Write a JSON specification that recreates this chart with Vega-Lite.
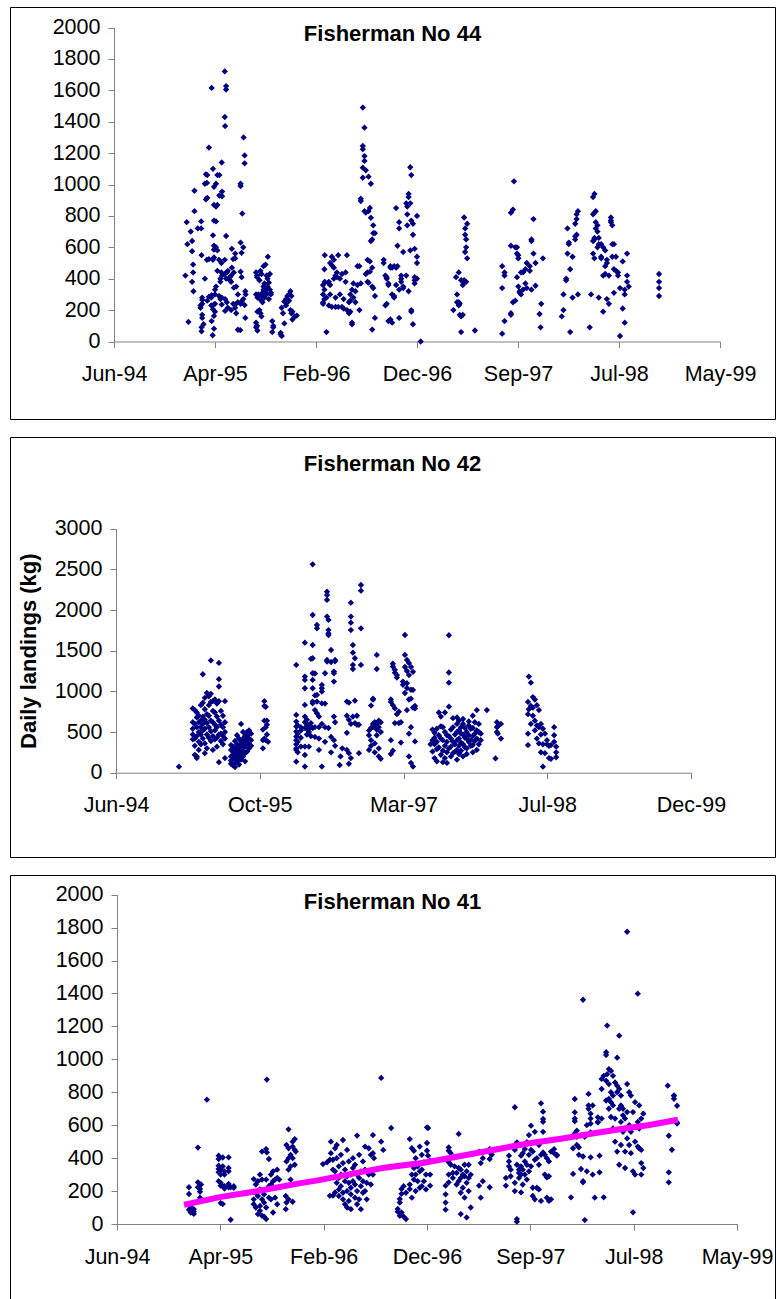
{
"$schema":"https://vega.github.io/schema/vega-lite/v6.json",
"background":"white",
"padding":{"left":9,"top":6,"right":0,"bottom":0},
"spacing":16,
"config":{
"view":{"stroke":"#000000","strokeWidth":1},
"font":"Liberation Sans",
"axis":{"domainColor":"#808080","tickColor":"#808080","tickSize":6,"labelColor":"#000000","labelFontSize":21.5,"labelFont":"Liberation Sans","grid":false,"titleFont":"Liberation Sans","titleFontSize":22,"titleFontWeight":"bold","titleColor":"#000000"},
"title":{"font":"Liberation Sans","fontSize":22,"fontWeight":"bold","color":"#000000","anchor":"middle","frame":"group","offset":-39}
},
"datasets":{
"p44":[
{"date":"1995-01-13","kg":420},{"date":"1995-01-17","kg":760},{"date":"1995-01-19","kg":620},{"date":"1995-01-22","kg":125},{"date":"1995-01-29","kg":700},
{"date":"1995-02-02","kg":640},{"date":"1995-02-02","kg":575},{"date":"1995-02-02","kg":380},{"date":"1995-02-05","kg":490},{"date":"1995-02-05","kg":440},{"date":"1995-02-06","kg":320},{"date":"1995-02-09","kg":960},{"date":"1995-02-09","kg":830},{"date":"1995-02-19","kg":720},{"date":"1995-02-27","kg":215},{"date":"1995-02-27","kg":230},
{"date":"1995-03-01","kg":765},{"date":"1995-03-01","kg":720},{"date":"1995-03-02","kg":550},{"date":"1995-03-02","kg":65},{"date":"1995-03-02","kg":90},{"date":"1995-03-04","kg":265},{"date":"1995-03-04","kg":280},{"date":"1995-03-04","kg":240},{"date":"1995-03-04","kg":170},{"date":"1995-03-04","kg":150},{"date":"1995-03-08","kg":110},
{"date":"1995-03-12","kg":1005},{"date":"1995-03-12","kg":400},{"date":"1995-03-15","kg":1065},{"date":"1995-03-15","kg":905},{"date":"1995-03-18","kg":1010},{"date":"1995-03-18","kg":520},{"date":"1995-03-19","kg":1060},{"date":"1995-03-19","kg":915},{"date":"1995-03-19","kg":260},{"date":"1995-03-24","kg":1235},{"date":"1995-03-24","kg":525},{"date":"1995-03-24","kg":285},{"date":"1995-03-31","kg":280},{"date":"1995-03-31","kg":230},
{"date":"1995-04-01","kg":1615},{"date":"1995-04-01","kg":295},{"date":"1995-04-01","kg":130},{"date":"1995-04-04","kg":40},{"date":"1995-04-05","kg":1100},{"date":"1995-04-05","kg":676},{"date":"1995-04-05","kg":520},{"date":"1995-04-05","kg":205},
{"date":"1995-04-08","kg":985},{"date":"1995-04-08","kg":535},{"date":"1995-04-08","kg":237},{"date":"1995-04-08","kg":163},{"date":"1995-04-08","kg":82},{"date":"1995-04-08","kg":870},{"date":"1995-04-08","kg":770},{"date":"1995-04-08","kg":610},{"date":"1995-04-08","kg":585},
{"date":"1995-04-11","kg":330},{"date":"1995-04-11","kg":300},{"date":"1995-04-11","kg":240},{"date":"1995-04-11","kg":190},{"date":"1995-04-14","kg":1005},{"date":"1995-04-14","kg":860},{"date":"1995-04-14","kg":765},{"date":"1995-04-14","kg":600},{"date":"1995-04-14","kg":350},
{"date":"1995-04-18","kg":1060},{"date":"1995-04-18","kg":870},{"date":"1995-04-18","kg":580},{"date":"1995-04-18","kg":450},{"date":"1995-04-23","kg":520},{"date":"1995-04-23","kg":290},{"date":"1995-04-24","kg":1060},{"date":"1995-04-24","kg":930},{"date":"1995-04-27","kg":400},{"date":"1995-04-27","kg":380},{"date":"1995-04-27","kg":270},{"date":"1995-04-30","kg":500},{"date":"1995-04-30","kg":440},
{"date":"1995-05-01","kg":1140},{"date":"1995-05-01","kg":280},{"date":"1995-05-01","kg":235},{"date":"1995-05-02","kg":955},{"date":"1995-05-02","kg":925},{"date":"1995-05-02","kg":420},{"date":"1995-05-10","kg":1720},{"date":"1995-05-10","kg":1430},{"date":"1995-05-10","kg":520},{"date":"1995-05-10","kg":430},
{"date":"1995-05-11","kg":1372},{"date":"1995-05-11","kg":270},{"date":"1995-05-11","kg":195},{"date":"1995-05-14","kg":1627},{"date":"1995-05-14","kg":1605},{"date":"1995-05-14","kg":672},{"date":"1995-05-14","kg":400},{"date":"1995-05-16","kg":250},{"date":"1995-05-16","kg":440},{"date":"1995-05-19","kg":450},{"date":"1995-05-19","kg":215},
{"date":"1995-05-25","kg":410},{"date":"1995-05-25","kg":390},{"date":"1995-05-29","kg":420},{"date":"1995-05-29","kg":380},{"date":"1995-05-29","kg":200},{"date":"1995-05-31","kg":590},{"date":"1995-05-31","kg":470},{"date":"1995-06-04","kg":525},{"date":"1995-06-04","kg":240},{"date":"1995-06-06","kg":343},{"date":"1995-06-06","kg":440},
{"date":"1995-06-10","kg":560},{"date":"1995-06-10","kg":530},{"date":"1995-06-10","kg":236},{"date":"1995-06-10","kg":215},{"date":"1995-06-13","kg":180},{"date":"1995-06-13","kg":350},{"date":"1995-06-18","kg":300},{"date":"1995-06-18","kg":250},{"date":"1995-06-18","kg":75},{"date":"1995-06-25","kg":72},
{"date":"1995-06-26","kg":1005},{"date":"1995-06-26","kg":990},{"date":"1995-06-26","kg":445},{"date":"1995-06-26","kg":630},{"date":"1995-06-26","kg":240},{"date":"1995-06-29","kg":410},{"date":"1995-06-29","kg":565},{"date":"1995-06-29","kg":255},{"date":"1995-07-01","kg":815},{"date":"1995-07-04","kg":600},{"date":"1995-07-04","kg":270},
{"date":"1995-07-05","kg":1300},{"date":"1995-07-08","kg":1185},{"date":"1995-07-08","kg":1135},{"date":"1995-07-08","kg":232},{"date":"1995-07-10","kg":150},{"date":"1995-07-10","kg":320},{"date":"1995-07-11","kg":300},
{"date":"1995-08-11","kg":120},{"date":"1995-08-11","kg":300},{"date":"1995-08-11","kg":440},{"date":"1995-08-11","kg":90},{"date":"1995-08-14","kg":100},{"date":"1995-08-14","kg":420},{"date":"1995-08-14","kg":410},{"date":"1995-08-15","kg":70},{"date":"1995-08-15","kg":190},{"date":"1995-08-15","kg":280},
{"date":"1995-08-18","kg":280},{"date":"1995-08-18","kg":300},{"date":"1995-08-21","kg":200},{"date":"1995-08-21","kg":390},{"date":"1995-08-24","kg":450},{"date":"1995-08-24","kg":180},{"date":"1995-08-24","kg":270},{"date":"1995-08-27","kg":430},{"date":"1995-08-27","kg":260},{"date":"1995-08-27","kg":160},
{"date":"1995-08-30","kg":290},{"date":"1995-08-30","kg":250},{"date":"1995-08-30","kg":310},{"date":"1995-09-02","kg":480},{"date":"1995-09-02","kg":350},{"date":"1995-09-02","kg":330},{"date":"1995-09-05","kg":320},{"date":"1995-09-05","kg":370},{"date":"1995-09-05","kg":280},{"date":"1995-09-08","kg":490},{"date":"1995-09-08","kg":310},
{"date":"1995-09-11","kg":420},{"date":"1995-09-11","kg":330},{"date":"1995-09-11","kg":300},{"date":"1995-09-14","kg":400},{"date":"1995-09-14","kg":350},{"date":"1995-09-15","kg":540},{"date":"1995-09-15","kg":420},{"date":"1995-09-18","kg":375},{"date":"1995-09-18","kg":270},{"date":"1995-09-21","kg":430},{"date":"1995-09-21","kg":330},
{"date":"1995-09-24","kg":310},{"date":"1995-09-24","kg":300},{"date":"1995-09-28","kg":130},{"date":"1995-09-28","kg":60},{"date":"1995-10-01","kg":90},{"date":"1995-10-01","kg":100},
{"date":"1995-10-23","kg":45},{"date":"1995-10-23","kg":55},{"date":"1995-10-26","kg":215},{"date":"1995-10-26","kg":35},{"date":"1995-10-30","kg":180},{"date":"1995-11-03","kg":115},{"date":"1995-11-03","kg":255},{"date":"1995-11-08","kg":270},{"date":"1995-11-08","kg":230},
{"date":"1995-11-12","kg":290},{"date":"1995-11-12","kg":250},{"date":"1995-11-17","kg":300},{"date":"1995-11-17","kg":260},{"date":"1995-11-21","kg":320},{"date":"1995-11-21","kg":200},{"date":"1995-11-24","kg":290},{"date":"1995-11-24","kg":180},{"date":"1995-11-27","kg":190},{"date":"1995-11-27","kg":140},{"date":"1995-12-04","kg":160},{"date":"1995-12-10","kg":165},
{"date":"1996-02-26","kg":300},{"date":"1996-02-26","kg":240},{"date":"1996-02-26","kg":250},{"date":"1996-02-26","kg":360},{"date":"1996-03-01","kg":460},{"date":"1996-03-01","kg":330},{"date":"1996-03-01","kg":270},{"date":"1996-03-02","kg":550},{"date":"1996-03-02","kg":380},{"date":"1996-03-07","kg":280},{"date":"1996-03-07","kg":60},
{"date":"1996-03-14","kg":380},{"date":"1996-03-14","kg":370},{"date":"1996-03-14","kg":230},{"date":"1996-03-18","kg":500},{"date":"1996-03-18","kg":360},{"date":"1996-03-18","kg":300},{"date":"1996-03-23","kg":540},{"date":"1996-03-23","kg":485},{"date":"1996-03-23","kg":220},
{"date":"1996-03-29","kg":520},{"date":"1996-03-29","kg":470},{"date":"1996-03-29","kg":400},{"date":"1996-04-03","kg":420},{"date":"1996-04-03","kg":280},{"date":"1996-04-03","kg":220},{"date":"1996-04-07","kg":440},{"date":"1996-04-07","kg":410},{"date":"1996-04-11","kg":220},{"date":"1996-04-11","kg":550},
{"date":"1996-04-16","kg":400},{"date":"1996-04-16","kg":300},{"date":"1996-04-22","kg":430},{"date":"1996-04-22","kg":220},{"date":"1996-04-27","kg":270},{"date":"1996-04-27","kg":210},{"date":"1996-05-03","kg":440},{"date":"1996-05-03","kg":380},{"date":"1996-05-07","kg":550},{"date":"1996-05-07","kg":200},
{"date":"1996-05-13","kg":250},{"date":"1996-05-13","kg":180},{"date":"1996-05-17","kg":190},{"date":"1996-05-17","kg":260},{"date":"1996-05-17","kg":300},{"date":"1996-05-22","kg":330},{"date":"1996-05-22","kg":120},{"date":"1996-05-22","kg":110},{"date":"1996-05-26","kg":280},{"date":"1996-05-26","kg":370},
{"date":"1996-06-01","kg":320},{"date":"1996-06-01","kg":250},{"date":"1996-06-07","kg":360},{"date":"1996-06-07","kg":480},{"date":"1996-06-13","kg":200},{"date":"1996-06-13","kg":480},{"date":"1996-06-17","kg":910},{"date":"1996-06-17","kg":895},{"date":"1996-06-17","kg":370},
{"date":"1996-06-23","kg":1490},{"date":"1996-06-23","kg":1245},{"date":"1996-06-23","kg":1225},{"date":"1996-06-23","kg":1043},{"date":"1996-06-23","kg":1107},{"date":"1996-06-28","kg":1362},{"date":"1996-06-28","kg":1150},{"date":"1996-06-28","kg":1181},{"date":"1996-06-28","kg":830},
{"date":"1996-07-02","kg":1090},{"date":"1996-07-02","kg":821},{"date":"1996-07-02","kg":430},{"date":"1996-07-07","kg":520},{"date":"1996-07-07","kg":440},{"date":"1996-07-07","kg":380},{"date":"1996-07-10","kg":1050},{"date":"1996-07-10","kg":830},{"date":"1996-07-10","kg":375},
{"date":"1996-07-14","kg":851},{"date":"1996-07-14","kg":510},{"date":"1996-07-14","kg":445},{"date":"1996-07-17","kg":1005},{"date":"1996-07-17","kg":788},{"date":"1996-07-17","kg":640},{"date":"1996-07-21","kg":650},{"date":"1996-07-21","kg":470},{"date":"1996-07-21","kg":350},{"date":"1996-07-21","kg":76},
{"date":"1996-07-24","kg":740},{"date":"1996-07-24","kg":690},{"date":"1996-07-24","kg":340},{"date":"1996-07-29","kg":690},{"date":"1996-07-29","kg":290},{"date":"1996-07-29","kg":150},
{"date":"1996-08-24","kg":520},{"date":"1996-08-24","kg":500},{"date":"1996-08-29","kg":420},{"date":"1996-08-29","kg":230},{"date":"1996-09-02","kg":410},{"date":"1996-09-02","kg":240},{"date":"1996-09-02","kg":400},{"date":"1996-09-07","kg":370},{"date":"1996-09-07","kg":360},{"date":"1996-09-07","kg":130},
{"date":"1996-09-13","kg":480},{"date":"1996-09-13","kg":470},{"date":"1996-09-13","kg":140},{"date":"1996-09-18","kg":470},{"date":"1996-09-18","kg":300},{"date":"1996-09-18","kg":120},{"date":"1996-09-24","kg":480},{"date":"1996-09-24","kg":290},{"date":"1996-09-24","kg":280},
{"date":"1996-09-30","kg":850},{"date":"1996-09-30","kg":470},{"date":"1996-09-30","kg":360},{"date":"1996-10-04","kg":480},{"date":"1996-10-04","kg":610},{"date":"1996-10-09","kg":720},{"date":"1996-10-09","kg":760},{"date":"1996-10-09","kg":330},{"date":"1996-10-09","kg":150},
{"date":"1996-10-15","kg":400},{"date":"1996-10-15","kg":380},{"date":"1996-10-15","kg":420},{"date":"1996-10-21","kg":570},{"date":"1996-10-21","kg":340},{"date":"1996-10-21","kg":350},{"date":"1996-10-30","kg":420},{"date":"1996-10-30","kg":880},
{"date":"1996-11-02","kg":810},{"date":"1996-11-02","kg":860},{"date":"1996-11-02","kg":740},{"date":"1996-11-06","kg":940},{"date":"1996-11-06","kg":920},{"date":"1996-11-06","kg":320},{"date":"1996-11-11","kg":1110},{"date":"1996-11-11","kg":880},{"date":"1996-11-11","kg":580},
{"date":"1996-11-14","kg":1060},{"date":"1996-11-14","kg":770},{"date":"1996-11-14","kg":200},{"date":"1996-11-14","kg":190},{"date":"1996-11-19","kg":750},{"date":"1996-11-19","kg":680},{"date":"1996-11-19","kg":110},
{"date":"1996-11-24","kg":590},{"date":"1996-11-24","kg":410},{"date":"1996-11-24","kg":390},{"date":"1996-11-24","kg":370},{"date":"1996-12-01","kg":800},{"date":"1996-12-01","kg":540},{"date":"1996-12-01","kg":500},{"date":"1996-12-01","kg":400},{"date":"1996-12-12","kg":0},
{"date":"1997-03-19","kg":200},{"date":"1997-03-27","kg":410},{"date":"1997-03-30","kg":300},{"date":"1997-03-30","kg":250},{"date":"1997-04-04","kg":440},{"date":"1997-04-04","kg":250},{"date":"1997-04-04","kg":230},{"date":"1997-04-07","kg":170},{"date":"1997-04-07","kg":240},
{"date":"1997-04-11","kg":390},{"date":"1997-04-11","kg":160},{"date":"1997-04-11","kg":60},{"date":"1997-04-16","kg":170},{"date":"1997-04-16","kg":360},{"date":"1997-04-20","kg":790},{"date":"1997-04-20","kg":390},{"date":"1997-04-20","kg":380},
{"date":"1997-04-23","kg":720},{"date":"1997-04-23","kg":680},{"date":"1997-04-23","kg":570},{"date":"1997-04-26","kg":650},{"date":"1997-04-26","kg":600},{"date":"1997-04-26","kg":380},{"date":"1997-04-29","kg":750},{"date":"1997-04-29","kg":530},{"date":"1997-05-22","kg":70},
{"date":"1997-08-11","kg":50},{"date":"1997-08-11","kg":480},{"date":"1997-08-11","kg":340},{"date":"1997-08-18","kg":130},{"date":"1997-08-18","kg":440},{"date":"1997-08-18","kg":420},{"date":"1997-09-06","kg":170},{"date":"1997-09-06","kg":180},{"date":"1997-09-06","kg":610},{"date":"1997-09-06","kg":820},
{"date":"1997-09-12","kg":840},{"date":"1997-09-12","kg":250},{"date":"1997-09-15","kg":1020},{"date":"1997-09-19","kg":600},{"date":"1997-09-19","kg":260},{"date":"1997-09-24","kg":560},{"date":"1997-09-24","kg":600},{"date":"1997-09-24","kg":410},
{"date":"1997-09-28","kg":530},{"date":"1997-09-28","kg":550},{"date":"1997-09-28","kg":350},{"date":"1997-10-02","kg":310},{"date":"1997-10-02","kg":320},{"date":"1997-10-06","kg":440},{"date":"1997-10-06","kg":300},{"date":"1997-10-12","kg":330},{"date":"1997-10-12","kg":440},
{"date":"1997-10-19","kg":460},{"date":"1997-10-19","kg":370},{"date":"1997-10-23","kg":500},{"date":"1997-10-23","kg":340},{"date":"1997-11-01","kg":450},{"date":"1997-11-01","kg":480},{"date":"1997-11-06","kg":640},{"date":"1997-11-06","kg":650},{"date":"1997-11-06","kg":330},
{"date":"1997-11-12","kg":780},{"date":"1997-11-12","kg":560},{"date":"1997-11-18","kg":355},{"date":"1997-11-18","kg":500},{"date":"1997-11-30","kg":175},{"date":"1997-12-03","kg":90},{"date":"1997-12-05","kg":240},{"date":"1997-12-10","kg":530},
{"date":"1998-02-04","kg":160},{"date":"1998-02-09","kg":200},{"date":"1998-02-09","kg":300},{"date":"1998-02-17","kg":390},{"date":"1998-02-17","kg":400},{"date":"1998-02-21","kg":720},{"date":"1998-02-21","kg":560},{"date":"1998-02-25","kg":620},{"date":"1998-02-25","kg":630},
{"date":"1998-03-01","kg":60},{"date":"1998-03-01","kg":460},{"date":"1998-03-08","kg":540},{"date":"1998-03-08","kg":280},{"date":"1998-03-16","kg":750},{"date":"1998-03-16","kg":650},{"date":"1998-03-16","kg":670},{"date":"1998-03-20","kg":680},{"date":"1998-03-20","kg":780},{"date":"1998-03-20","kg":810},{"date":"1998-03-24","kg":830},{"date":"1998-03-24","kg":300},
{"date":"1998-04-28","kg":90},{"date":"1998-05-02","kg":300},{"date":"1998-05-08","kg":920},{"date":"1998-05-08","kg":810},{"date":"1998-05-08","kg":640},{"date":"1998-05-08","kg":560},{"date":"1998-05-12","kg":940},{"date":"1998-05-12","kg":820},{"date":"1998-05-12","kg":660},{"date":"1998-05-12","kg":650},{"date":"1998-05-12","kg":530},
{"date":"1998-05-16","kg":830},{"date":"1998-05-16","kg":760},{"date":"1998-05-16","kg":720},{"date":"1998-05-21","kg":740},{"date":"1998-05-21","kg":700},{"date":"1998-05-21","kg":600},{"date":"1998-05-25","kg":660},{"date":"1998-05-25","kg":280},{"date":"1998-05-25","kg":620},
{"date":"1998-06-01","kg":540},{"date":"1998-06-01","kg":620},{"date":"1998-06-01","kg":530},{"date":"1998-06-07","kg":600},{"date":"1998-06-07","kg":420},{"date":"1998-06-07","kg":190},{"date":"1998-06-13","kg":480},{"date":"1998-06-13","kg":580},{"date":"1998-06-13","kg":430},
{"date":"1998-06-18","kg":520},{"date":"1998-06-18","kg":500},{"date":"1998-06-18","kg":270},{"date":"1998-06-24","kg":420},{"date":"1998-06-24","kg":240},
{"date":"1998-06-30","kg":790},{"date":"1998-06-30","kg":770},{"date":"1998-06-30","kg":760},{"date":"1998-07-04","kg":740},{"date":"1998-07-04","kg":620},{"date":"1998-07-04","kg":540},{"date":"1998-07-09","kg":620},{"date":"1998-07-09","kg":460},{"date":"1998-07-09","kg":310},
{"date":"1998-07-15","kg":450},{"date":"1998-07-15","kg":540},{"date":"1998-07-21","kg":440},{"date":"1998-07-21","kg":420},{"date":"1998-07-27","kg":340},{"date":"1998-07-27","kg":35},{"date":"1998-08-04","kg":510},{"date":"1998-08-04","kg":210},
{"date":"1998-08-10","kg":120},{"date":"1998-08-10","kg":300},{"date":"1998-08-10","kg":330},{"date":"1998-08-17","kg":380},{"date":"1998-08-17","kg":420},{"date":"1998-08-17","kg":560},{"date":"1998-08-22","kg":350},
{"date":"1998-11-20","kg":430},{"date":"1998-11-20","kg":380},{"date":"1998-11-20","kg":340},{"date":"1998-11-20","kg":290}
],
"p42":[
{"date":"1995-01-20","kg":74},
{"date":"1995-03-09","kg":540},{"date":"1995-03-09","kg":620},{"date":"1995-03-09","kg":470},{"date":"1995-03-09","kg":790},{"date":"1995-03-09","kg":410},
{"date":"1995-03-16","kg":770},{"date":"1995-03-16","kg":600},{"date":"1995-03-16","kg":420},{"date":"1995-03-16","kg":330},{"date":"1995-03-16","kg":220},
{"date":"1995-03-23","kg":740},{"date":"1995-03-23","kg":680},{"date":"1995-03-23","kg":560},{"date":"1995-03-23","kg":450},{"date":"1995-03-23","kg":200},{"date":"1995-03-23","kg":180},
{"date":"1995-03-30","kg":700},{"date":"1995-03-30","kg":620},{"date":"1995-03-30","kg":500},{"date":"1995-03-30","kg":380},{"date":"1995-03-30","kg":280},
{"date":"1995-04-06","kg":830},{"date":"1995-04-06","kg":640},{"date":"1995-04-06","kg":560},{"date":"1995-04-06","kg":470},{"date":"1995-04-06","kg":350},
{"date":"1995-04-13","kg":1210},{"date":"1995-04-13","kg":860},{"date":"1995-04-13","kg":690},{"date":"1995-04-13","kg":600},{"date":"1995-04-13","kg":520},{"date":"1995-04-13","kg":420},
{"date":"1995-04-20","kg":920},{"date":"1995-04-20","kg":780},{"date":"1995-04-20","kg":650},{"date":"1995-04-20","kg":540},{"date":"1995-04-20","kg":360},{"date":"1995-04-20","kg":240},
{"date":"1995-04-27","kg":980},{"date":"1995-04-27","kg":720},{"date":"1995-04-27","kg":610},{"date":"1995-04-27","kg":470},{"date":"1995-04-27","kg":300},
{"date":"1995-05-04","kg":940},{"date":"1995-05-04","kg":830},{"date":"1995-05-04","kg":700},{"date":"1995-05-04","kg":560},{"date":"1995-05-04","kg":430},
{"date":"1995-05-11","kg":1380},{"date":"1995-05-11","kg":970},{"date":"1995-05-11","kg":870},{"date":"1995-05-11","kg":640},{"date":"1995-05-11","kg":510},{"date":"1995-05-11","kg":390},
{"date":"1995-05-18","kg":880},{"date":"1995-05-18","kg":760},{"date":"1995-05-18","kg":620},{"date":"1995-05-18","kg":450},{"date":"1995-05-18","kg":280},
{"date":"1995-05-25","kg":900},{"date":"1995-05-25","kg":740},{"date":"1995-05-25","kg":590},{"date":"1995-05-25","kg":520},{"date":"1995-05-25","kg":410},
{"date":"1995-06-01","kg":850},{"date":"1995-06-01","kg":690},{"date":"1995-06-01","kg":560},{"date":"1995-06-01","kg":430},{"date":"1995-06-01","kg":320},
{"date":"1995-06-08","kg":1350},{"date":"1995-06-08","kg":1150},{"date":"1995-06-08","kg":1060},{"date":"1995-06-08","kg":880},{"date":"1995-06-08","kg":640},{"date":"1995-06-08","kg":470},{"date":"1995-06-08","kg":130},
{"date":"1995-06-15","kg":760},{"date":"1995-06-15","kg":590},{"date":"1995-06-15","kg":480},{"date":"1995-06-15","kg":390},
{"date":"1995-06-22","kg":700},{"date":"1995-06-22","kg":560},{"date":"1995-06-22","kg":450},{"date":"1995-06-22","kg":350},
{"date":"1995-06-29","kg":880},{"date":"1995-06-29","kg":620},{"date":"1995-06-29","kg":500},{"date":"1995-06-29","kg":420},{"date":"1995-06-29","kg":180},
{"date":"1995-07-20","kg":340},{"date":"1995-07-20","kg":280},{"date":"1995-07-20","kg":200},{"date":"1995-07-20","kg":150},{"date":"1995-07-20","kg":110},
{"date":"1995-07-27","kg":320},{"date":"1995-07-27","kg":260},{"date":"1995-07-27","kg":220},{"date":"1995-07-27","kg":180},{"date":"1995-07-27","kg":90},
{"date":"1995-08-03","kg":390},{"date":"1995-08-03","kg":300},{"date":"1995-08-03","kg":250},{"date":"1995-08-03","kg":170},{"date":"1995-08-03","kg":120},{"date":"1995-08-03","kg":70},
{"date":"1995-08-10","kg":460},{"date":"1995-08-10","kg":350},{"date":"1995-08-10","kg":280},{"date":"1995-08-10","kg":210},{"date":"1995-08-10","kg":140},
{"date":"1995-08-17","kg":420},{"date":"1995-08-17","kg":330},{"date":"1995-08-17","kg":290},{"date":"1995-08-17","kg":250},{"date":"1995-08-17","kg":180},{"date":"1995-08-17","kg":100},
{"date":"1995-08-24","kg":600},{"date":"1995-08-24","kg":380},{"date":"1995-08-24","kg":300},{"date":"1995-08-24","kg":220},{"date":"1995-08-24","kg":160},
{"date":"1995-08-31","kg":500},{"date":"1995-08-31","kg":420},{"date":"1995-08-31","kg":350},{"date":"1995-08-31","kg":270},{"date":"1995-08-31","kg":200},
{"date":"1995-09-07","kg":450},{"date":"1995-09-07","kg":380},{"date":"1995-09-07","kg":320},{"date":"1995-09-07","kg":240},{"date":"1995-09-07","kg":140},
{"date":"1995-09-14","kg":500},{"date":"1995-09-14","kg":460},{"date":"1995-09-14","kg":400},{"date":"1995-09-14","kg":330},{"date":"1995-09-14","kg":260},
{"date":"1995-09-21","kg":520},{"date":"1995-09-21","kg":490},{"date":"1995-09-21","kg":420},{"date":"1995-09-21","kg":350},{"date":"1995-09-21","kg":300},
{"date":"1995-09-28","kg":480},{"date":"1995-09-28","kg":400},{"date":"1995-09-28","kg":330},
{"date":"1995-11-08","kg":300},{"date":"1995-11-08","kg":400},{"date":"1995-11-08","kg":530},{"date":"1995-11-13","kg":880},{"date":"1995-11-13","kg":820},{"date":"1995-11-13","kg":640},{"date":"1995-11-13","kg":420},
{"date":"1995-11-18","kg":560},{"date":"1995-11-18","kg":810},{"date":"1995-11-18","kg":400},{"date":"1995-11-22","kg":590},{"date":"1995-11-22","kg":640},{"date":"1995-11-22","kg":470},{"date":"1995-11-26","kg":380},
{"date":"1996-03-03","kg":1325},{"date":"1996-03-03","kg":710},{"date":"1996-03-03","kg":628},{"date":"1996-03-03","kg":567},{"date":"1996-03-03","kg":506},{"date":"1996-03-03","kg":444},{"date":"1996-03-03","kg":400},{"date":"1996-03-03","kg":350},{"date":"1996-03-03","kg":300},{"date":"1996-03-03","kg":280},{"date":"1996-03-03","kg":136},
{"date":"1996-03-08","kg":580},{"date":"1996-03-08","kg":480},{"date":"1996-03-08","kg":380},{"date":"1996-03-08","kg":250},
{"date":"1996-03-19","kg":560},{"date":"1996-03-19","kg":520},{"date":"1996-03-19","kg":430},{"date":"1996-03-19","kg":320},
{"date":"1996-04-02","kg":1599},{"date":"1996-04-02","kg":1182},{"date":"1996-04-02","kg":1141},{"date":"1996-04-02","kg":1038},{"date":"1996-04-02","kg":833},{"date":"1996-04-02","kg":690},{"date":"1996-04-02","kg":620},{"date":"1996-04-02","kg":550},{"date":"1996-04-02","kg":321},{"date":"1996-04-02","kg":218},{"date":"1996-04-02","kg":75},
{"date":"1996-04-09","kg":650},{"date":"1996-04-09","kg":600},{"date":"1996-04-09","kg":540},{"date":"1996-04-09","kg":470},
{"date":"1996-04-16","kg":580},{"date":"1996-04-16","kg":540},{"date":"1996-04-16","kg":500},{"date":"1996-04-16","kg":320},
{"date":"1996-04-23","kg":1400},{"date":"1996-04-23","kg":610},{"date":"1996-04-23","kg":560},{"date":"1996-04-23","kg":450},
{"date":"1996-04-29","kg":2562},{"date":"1996-04-29","kg":1939},{"date":"1996-04-29","kg":1570},{"date":"1996-04-29","kg":1407},{"date":"1996-04-29","kg":1223},{"date":"1996-04-29","kg":1141},{"date":"1996-04-29","kg":1038},{"date":"1996-04-29","kg":874},{"date":"1996-04-29","kg":853},{"date":"1996-04-29","kg":550},
{"date":"1996-05-07","kg":1220},{"date":"1996-05-07","kg":950},{"date":"1996-05-07","kg":770},{"date":"1996-05-07","kg":560},{"date":"1996-05-07","kg":440},
{"date":"1996-05-14","kg":1816},{"date":"1996-05-14","kg":1775},{"date":"1996-05-14","kg":956},{"date":"1996-05-14","kg":874},{"date":"1996-05-14","kg":730},
{"date":"1996-05-21","kg":690},{"date":"1996-05-21","kg":560},{"date":"1996-05-21","kg":420},{"date":"1996-05-21","kg":280},
{"date":"1996-05-31","kg":1079},{"date":"1996-05-31","kg":1038},{"date":"1996-05-31","kg":997},{"date":"1996-05-31","kg":853},{"date":"1996-05-31","kg":600},{"date":"1996-05-31","kg":75},
{"date":"1996-06-11","kg":1223},{"date":"1996-06-11","kg":850},{"date":"1996-06-11","kg":560},{"date":"1996-06-11","kg":380},
{"date":"1996-06-18","kg":1386},{"date":"1996-06-18","kg":1366},{"date":"1996-06-18","kg":2226},{"date":"1996-06-18","kg":2185},{"date":"1996-06-18","kg":2124},{"date":"1996-06-18","kg":1919},
{"date":"1996-06-23","kg":1878},{"date":"1996-06-23","kg":1754},{"date":"1996-06-23","kg":1714},{"date":"1996-06-23","kg":1693},{"date":"1996-06-23","kg":550},
{"date":"1996-07-02","kg":1509},{"date":"1996-07-02","kg":1360},{"date":"1996-07-02","kg":440},{"date":"1996-07-02","kg":250},
{"date":"1996-07-12","kg":1243},{"date":"1996-07-12","kg":1223},{"date":"1996-07-12","kg":1120},{"date":"1996-07-12","kg":690},{"date":"1996-07-12","kg":400},
{"date":"1996-07-16","kg":1386},{"date":"1996-07-16","kg":1370},{"date":"1996-07-16","kg":620},{"date":"1996-07-16","kg":330},
{"date":"1996-08-01","kg":95},{"date":"1996-08-04","kg":200},{"date":"1996-08-10","kg":300},
{"date":"1996-08-26","kg":874},{"date":"1996-08-26","kg":700},{"date":"1996-08-26","kg":490},{"date":"1996-08-26","kg":280},
{"date":"1996-09-02","kg":862},{"date":"1996-09-02","kg":650},{"date":"1996-09-02","kg":240},{"date":"1996-09-02","kg":110},
{"date":"1996-09-09","kg":2091},{"date":"1996-09-09","kg":1919},{"date":"1996-09-09","kg":1845},{"date":"1996-09-09","kg":1754},{"date":"1996-09-09","kg":600},{"date":"1996-09-09","kg":180},
{"date":"1996-09-16","kg":1570},{"date":"1996-09-16","kg":1476},{"date":"1996-09-16","kg":1325},{"date":"1996-09-16","kg":1275},{"date":"1996-09-16","kg":690},
{"date":"1996-09-23","kg":1407},{"date":"1996-09-23","kg":886},{"date":"1996-09-23","kg":610},{"date":"1996-09-30","kg":590},{"date":"1996-09-30","kg":700},{"date":"1996-10-07","kg":240},{"date":"1996-10-07","kg":590},
{"date":"1996-10-14","kg":2308},{"date":"1996-10-14","kg":2238},{"date":"1996-10-14","kg":1775},{"date":"1996-10-14","kg":1325},
{"date":"1996-11-11","kg":520},{"date":"1996-11-11","kg":460},{"date":"1996-11-11","kg":280},{"date":"1996-11-18","kg":825},{"date":"1996-11-18","kg":550},{"date":"1996-11-18","kg":400},{"date":"1996-11-18","kg":330},
{"date":"1996-11-25","kg":898},{"date":"1996-11-25","kg":910},{"date":"1996-11-25","kg":600},{"date":"1996-11-25","kg":560},{"date":"1996-12-01","kg":620},{"date":"1996-12-01","kg":580},{"date":"1996-12-01","kg":360},{"date":"1996-12-01","kg":250},
{"date":"1996-12-08","kg":1448},{"date":"1996-12-08","kg":1275},{"date":"1996-12-08","kg":600},{"date":"1996-12-08","kg":530},{"date":"1996-12-08","kg":460},
{"date":"1996-12-15","kg":640},{"date":"1996-12-15","kg":560},{"date":"1996-12-15","kg":300},{"date":"1996-12-15","kg":200},{"date":"1996-12-22","kg":620},{"date":"1996-12-22","kg":500},{"date":"1996-12-22","kg":170},
{"date":"1997-01-26","kg":900},{"date":"1997-01-26","kg":870},{"date":"1997-01-26","kg":400},{"date":"1997-01-26","kg":230},{"date":"1997-02-02","kg":1340},{"date":"1997-02-02","kg":1305},{"date":"1997-02-02","kg":830},{"date":"1997-02-02","kg":270},
{"date":"1997-02-09","kg":1265},{"date":"1997-02-09","kg":1230},{"date":"1997-02-09","kg":790},{"date":"1997-02-09","kg":610},{"date":"1997-02-16","kg":1200},{"date":"1997-02-16","kg":1170},{"date":"1997-02-16","kg":720},
{"date":"1997-02-23","kg":750},{"date":"1997-02-23","kg":610},{"date":"1997-03-02","kg":620},{"date":"1997-03-02","kg":370},{"date":"1997-03-09","kg":1120},{"date":"1997-03-09","kg":1080},
{"date":"1997-03-16","kg":1693},{"date":"1997-03-16","kg":1448},{"date":"1997-03-16","kg":1300},{"date":"1997-03-16","kg":980},
{"date":"1997-03-23","kg":1386},{"date":"1997-03-23","kg":1250},{"date":"1997-03-23","kg":1100},{"date":"1997-03-23","kg":1040},{"date":"1997-03-23","kg":770},
{"date":"1997-03-30","kg":1350},{"date":"1997-03-30","kg":1200},{"date":"1997-03-30","kg":900},{"date":"1997-03-30","kg":480},{"date":"1997-03-30","kg":200},
{"date":"1997-04-06","kg":1300},{"date":"1997-04-06","kg":1020},{"date":"1997-04-06","kg":910},{"date":"1997-04-06","kg":560},{"date":"1997-04-06","kg":120},
{"date":"1997-04-13","kg":1240},{"date":"1997-04-13","kg":1018},{"date":"1997-04-13","kg":800},{"date":"1997-04-13","kg":75},{"date":"1997-04-20","kg":820},{"date":"1997-04-20","kg":790},{"date":"1997-04-20","kg":385},
{"date":"1997-06-13","kg":350},{"date":"1997-06-20","kg":530},{"date":"1997-06-20","kg":400},{"date":"1997-06-20","kg":260},{"date":"1997-06-27","kg":490},{"date":"1997-06-27","kg":430},{"date":"1997-06-27","kg":350},{"date":"1997-06-27","kg":180},
{"date":"1997-07-05","kg":540},{"date":"1997-07-05","kg":380},{"date":"1997-07-05","kg":290},{"date":"1997-07-05","kg":140},{"date":"1997-07-12","kg":740},{"date":"1997-07-12","kg":460},{"date":"1997-07-12","kg":310},
{"date":"1997-07-19","kg":690},{"date":"1997-07-19","kg":570},{"date":"1997-07-19","kg":420},{"date":"1997-07-19","kg":220},{"date":"1997-07-26","kg":560},{"date":"1997-07-26","kg":400},{"date":"1997-07-26","kg":270},{"date":"1997-07-26","kg":130},
{"date":"1997-08-02","kg":740},{"date":"1997-08-02","kg":500},{"date":"1997-08-02","kg":330},{"date":"1997-08-02","kg":180},{"date":"1997-08-09","kg":460},{"date":"1997-08-09","kg":380},{"date":"1997-08-09","kg":250},{"date":"1997-08-09","kg":120},
{"date":"1997-08-16","kg":1690},{"date":"1997-08-16","kg":1232},{"date":"1997-08-16","kg":1107},{"date":"1997-08-16","kg":812},{"date":"1997-08-16","kg":450},{"date":"1997-08-16","kg":300},
{"date":"1997-08-23","kg":530},{"date":"1997-08-23","kg":420},{"date":"1997-08-23","kg":320},{"date":"1997-08-23","kg":200},{"date":"1997-08-30","kg":670},{"date":"1997-08-30","kg":560},{"date":"1997-08-30","kg":380},{"date":"1997-08-30","kg":240},
{"date":"1997-09-06","kg":470},{"date":"1997-09-06","kg":350},{"date":"1997-09-06","kg":260},
{"date":"1997-09-13","kg":680},{"date":"1997-09-13","kg":600},{"date":"1997-09-13","kg":500},{"date":"1997-09-13","kg":400},{"date":"1997-09-13","kg":280},{"date":"1997-09-13","kg":160},
{"date":"1997-09-20","kg":640},{"date":"1997-09-20","kg":520},{"date":"1997-09-20","kg":420},{"date":"1997-09-20","kg":330},{"date":"1997-09-20","kg":230},
{"date":"1997-09-27","kg":560},{"date":"1997-09-27","kg":480},{"date":"1997-09-27","kg":370},{"date":"1997-09-27","kg":270},
{"date":"1997-10-04","kg":660},{"date":"1997-10-04","kg":600},{"date":"1997-10-04","kg":470},{"date":"1997-10-04","kg":350},{"date":"1997-10-04","kg":200},
{"date":"1997-10-11","kg":550},{"date":"1997-10-11","kg":430},{"date":"1997-10-11","kg":310},{"date":"1997-10-17","kg":500},{"date":"1997-10-17","kg":420},{"date":"1997-10-17","kg":300},{"date":"1997-10-17","kg":230},
{"date":"1997-10-24","kg":630},{"date":"1997-10-24","kg":580},{"date":"1997-10-24","kg":460},{"date":"1997-10-24","kg":380},{"date":"1997-10-31","kg":540},{"date":"1997-10-31","kg":400},{"date":"1997-10-31","kg":330},
{"date":"1997-11-07","kg":700},{"date":"1997-11-07","kg":550},{"date":"1997-11-07","kg":450},{"date":"1997-11-07","kg":340},{"date":"1997-11-07","kg":250},
{"date":"1997-11-14","kg":620},{"date":"1997-11-14","kg":480},{"date":"1997-11-14","kg":390},{"date":"1997-11-21","kg":770},{"date":"1997-11-21","kg":520},{"date":"1997-11-21","kg":420},{"date":"1997-11-21","kg":280},
{"date":"1997-11-28","kg":600},{"date":"1997-11-28","kg":500},{"date":"1997-11-28","kg":350},{"date":"1997-12-05","kg":480},{"date":"1997-12-05","kg":400},{"date":"1997-12-26","kg":770},
{"date":"1998-01-25","kg":176},{"date":"1998-01-30","kg":620},{"date":"1998-01-30","kg":560},{"date":"1998-01-30","kg":500},{"date":"1998-02-02","kg":570},{"date":"1998-02-02","kg":480},{"date":"1998-02-13","kg":420},{"date":"1998-02-13","kg":600},
{"date":"1998-05-18","kg":870},{"date":"1998-05-18","kg":720},{"date":"1998-05-18","kg":480},{"date":"1998-05-18","kg":340},{"date":"1998-05-21","kg":1182},{"date":"1998-05-21","kg":780},
{"date":"1998-05-28","kg":1107},{"date":"1998-05-28","kg":820},{"date":"1998-05-28","kg":600},{"date":"1998-06-04","kg":930},{"date":"1998-06-04","kg":800},{"date":"1998-06-04","kg":700},
{"date":"1998-06-11","kg":900},{"date":"1998-06-11","kg":640},{"date":"1998-06-11","kg":520},{"date":"1998-06-18","kg":830},{"date":"1998-06-18","kg":580},{"date":"1998-06-18","kg":420},
{"date":"1998-06-25","kg":770},{"date":"1998-06-25","kg":560},{"date":"1998-06-25","kg":360},{"date":"1998-07-02","kg":600},{"date":"1998-07-02","kg":470},{"date":"1998-07-02","kg":250},
{"date":"1998-07-09","kg":540},{"date":"1998-07-09","kg":350},{"date":"1998-07-09","kg":74},{"date":"1998-07-16","kg":480},{"date":"1998-07-16","kg":240},{"date":"1998-07-23","kg":400},{"date":"1998-07-23","kg":350},
{"date":"1998-07-30","kg":330},{"date":"1998-07-30","kg":180},{"date":"1998-08-06","kg":340},{"date":"1998-08-06","kg":170},{"date":"1998-08-17","kg":560},{"date":"1998-08-17","kg":460},{"date":"1998-08-17","kg":380},
{"date":"1998-08-24","kg":320},{"date":"1998-08-24","kg":250},{"date":"1998-08-24","kg":190}
],
"p41":[
{"date":"1995-01-10","kg":223},{"date":"1995-01-10","kg":182},{"date":"1995-01-10","kg":87},{"date":"1995-01-15","kg":100},{"date":"1995-01-15","kg":70},{"date":"1995-01-24","kg":75},{"date":"1995-01-24","kg":61},{"date":"1995-01-24","kg":90},
{"date":"1995-02-05","kg":464},{"date":"1995-02-05","kg":253},{"date":"1995-02-05","kg":223},{"date":"1995-02-11","kg":213},{"date":"1995-02-11","kg":196},{"date":"1995-02-11","kg":160},{"date":"1995-02-14","kg":240},{"date":"1995-03-03","kg":755},
{"date":"1995-04-06","kg":415},{"date":"1995-04-06","kg":395},{"date":"1995-04-06","kg":354},{"date":"1995-04-06","kg":334},{"date":"1995-04-06","kg":314},{"date":"1995-04-06","kg":260},
{"date":"1995-04-12","kg":330},{"date":"1995-04-12","kg":300},{"date":"1995-04-12","kg":250},{"date":"1995-04-12","kg":233},{"date":"1995-04-12","kg":127},
{"date":"1995-04-18","kg":404},{"date":"1995-04-18","kg":350},{"date":"1995-04-18","kg":230},{"date":"1995-04-18","kg":121},{"date":"1995-04-23","kg":320},{"date":"1995-04-23","kg":300},{"date":"1995-04-23","kg":230},{"date":"1995-04-23","kg":215},
{"date":"1995-05-05","kg":405},{"date":"1995-05-05","kg":340},{"date":"1995-05-05","kg":320},{"date":"1995-05-05","kg":243},{"date":"1995-05-05","kg":223},{"date":"1995-05-11","kg":26},{"date":"1995-05-11","kg":223},{"date":"1995-05-20","kg":230},{"date":"1995-05-20","kg":220},
{"date":"1995-07-17","kg":273},{"date":"1995-07-17","kg":150},{"date":"1995-07-17","kg":120},{"date":"1995-07-23","kg":240},{"date":"1995-07-23","kg":190},{"date":"1995-07-23","kg":100},{"date":"1995-07-29","kg":260},{"date":"1995-07-29","kg":170},{"date":"1995-07-29","kg":60},
{"date":"1995-08-04","kg":300},{"date":"1995-08-04","kg":210},{"date":"1995-08-04","kg":110},{"date":"1995-08-04","kg":80},{"date":"1995-08-10","kg":440},{"date":"1995-08-10","kg":270},{"date":"1995-08-10","kg":150},{"date":"1995-08-10","kg":50},
{"date":"1995-08-16","kg":180},{"date":"1995-08-16","kg":130},{"date":"1995-08-16","kg":45},{"date":"1995-08-22","kg":455},{"date":"1995-08-22","kg":270},{"date":"1995-08-22","kg":100},{"date":"1995-08-22","kg":30},{"date":"1995-08-24","kg":877},{"date":"1995-08-24","kg":435},
{"date":"1995-08-30","kg":395},{"date":"1995-08-30","kg":230},{"date":"1995-08-30","kg":160},{"date":"1995-09-05","kg":300},{"date":"1995-09-05","kg":240},{"date":"1995-09-05","kg":150},{"date":"1995-09-11","kg":320},{"date":"1995-09-11","kg":260},{"date":"1995-09-11","kg":70},
{"date":"1995-09-17","kg":270},{"date":"1995-09-17","kg":160},{"date":"1995-09-23","kg":330},{"date":"1995-09-23","kg":280},{"date":"1995-09-23","kg":120},{"date":"1995-09-29","kg":270},
{"date":"1995-10-18","kg":90},{"date":"1995-10-18","kg":170},{"date":"1995-10-20","kg":480},{"date":"1995-10-20","kg":380},{"date":"1995-10-20","kg":130},{"date":"1995-10-26","kg":575},{"date":"1995-10-26","kg":460},{"date":"1995-10-26","kg":400},{"date":"1995-10-26","kg":330},{"date":"1995-10-26","kg":150},
{"date":"1995-11-01","kg":420},{"date":"1995-11-01","kg":350},{"date":"1995-11-01","kg":270},{"date":"1995-11-07","kg":500},{"date":"1995-11-07","kg":470},{"date":"1995-11-07","kg":400},{"date":"1995-11-07","kg":135},{"date":"1995-11-13","kg":516},{"date":"1995-11-13","kg":450},{"date":"1995-11-13","kg":360},{"date":"1995-11-16","kg":440},
{"date":"1996-02-03","kg":364},{"date":"1996-02-15","kg":375},{"date":"1996-02-23","kg":172},{"date":"1996-02-23","kg":390},{"date":"1996-02-26","kg":500},{"date":"1996-02-26","kg":430},
{"date":"1996-03-03","kg":390},{"date":"1996-03-03","kg":330},{"date":"1996-03-03","kg":172},{"date":"1996-03-09","kg":460},{"date":"1996-03-09","kg":320},{"date":"1996-03-09","kg":192},{"date":"1996-03-14","kg":480},{"date":"1996-03-14","kg":400},{"date":"1996-03-14","kg":250},
{"date":"1996-03-20","kg":350},{"date":"1996-03-20","kg":280},{"date":"1996-03-20","kg":210},{"date":"1996-03-20","kg":170},{"date":"1996-03-26","kg":420},{"date":"1996-03-26","kg":300},{"date":"1996-03-26","kg":230},
{"date":"1996-04-01","kg":510},{"date":"1996-04-01","kg":370},{"date":"1996-04-01","kg":190},{"date":"1996-04-01","kg":150},{"date":"1996-04-07","kg":330},{"date":"1996-04-07","kg":260},{"date":"1996-04-07","kg":120},
{"date":"1996-04-13","kg":450},{"date":"1996-04-13","kg":290},{"date":"1996-04-13","kg":200},{"date":"1996-04-13","kg":100},{"date":"1996-04-18","kg":380},{"date":"1996-04-18","kg":250},{"date":"1996-04-18","kg":140},
{"date":"1996-04-24","kg":300},{"date":"1996-04-24","kg":220},{"date":"1996-04-24","kg":180},{"date":"1996-04-24","kg":90},{"date":"1996-04-30","kg":400},{"date":"1996-04-30","kg":340},{"date":"1996-04-30","kg":260},
{"date":"1996-05-06","kg":360},{"date":"1996-05-06","kg":240},{"date":"1996-05-06","kg":160},{"date":"1996-05-12","kg":537},{"date":"1996-05-12","kg":300},{"date":"1996-05-12","kg":200},{"date":"1996-05-12","kg":120},
{"date":"1996-05-18","kg":420},{"date":"1996-05-18","kg":280},{"date":"1996-05-18","kg":150},{"date":"1996-05-23","kg":320},{"date":"1996-05-23","kg":230},{"date":"1996-05-23","kg":90},{"date":"1996-05-29","kg":380},{"date":"1996-05-29","kg":260},{"date":"1996-05-29","kg":190},
{"date":"1996-06-04","kg":470},{"date":"1996-06-04","kg":330},{"date":"1996-06-04","kg":200},{"date":"1996-06-09","kg":250},{"date":"1996-06-09","kg":150},{"date":"1996-06-15","kg":460},{"date":"1996-06-15","kg":300},{"date":"1996-06-21","kg":420},{"date":"1996-06-21","kg":240},
{"date":"1996-06-27","kg":540},{"date":"1996-06-27","kg":430},{"date":"1996-06-27","kg":300},{"date":"1996-06-30","kg":400},{"date":"1996-07-21","kg":887},{"date":"1996-07-21","kg":500},{"date":"1996-07-27","kg":450},{"date":"1996-08-19","kg":583},
{"date":"1996-09-07","kg":91},{"date":"1996-09-07","kg":75},{"date":"1996-09-13","kg":50},{"date":"1996-09-13","kg":152},{"date":"1996-09-13","kg":130},{"date":"1996-09-18","kg":70},{"date":"1996-09-18","kg":183},{"date":"1996-09-18","kg":213},{"date":"1996-09-24","kg":45},{"date":"1996-09-24","kg":230},{"date":"1996-10-01","kg":30},{"date":"1996-10-01","kg":190},
{"date":"1996-10-12","kg":516},{"date":"1996-10-12","kg":240},{"date":"1996-10-12","kg":212},{"date":"1996-10-18","kg":460},{"date":"1996-10-18","kg":300},{"date":"1996-10-18","kg":160},{"date":"1996-10-24","kg":445},{"date":"1996-10-24","kg":340},{"date":"1996-10-24","kg":270},
{"date":"1996-10-29","kg":400},{"date":"1996-10-29","kg":300},{"date":"1996-10-29","kg":200},{"date":"1996-11-04","kg":350},{"date":"1996-11-04","kg":260},{"date":"1996-11-10","kg":470},{"date":"1996-11-10","kg":320},{"date":"1996-11-10","kg":220},
{"date":"1996-11-16","kg":420},{"date":"1996-11-16","kg":330},{"date":"1996-11-16","kg":230},{"date":"1996-11-22","kg":375},{"date":"1996-11-22","kg":260},{"date":"1996-11-28","kg":300},{"date":"1996-11-28","kg":210},
{"date":"1996-12-01","kg":587},{"date":"1996-12-01","kg":492},{"date":"1996-12-01","kg":445},{"date":"1996-12-04","kg":583},{"date":"1996-12-04","kg":415},{"date":"1996-12-10","kg":385},{"date":"1996-12-10","kg":300},{"date":"1996-12-10","kg":233},
{"date":"1997-01-24","kg":233},{"date":"1997-01-24","kg":180},{"date":"1997-01-24","kg":130},{"date":"1997-01-24","kg":87},{"date":"1997-02-02","kg":445},{"date":"1997-02-02","kg":465},{"date":"1997-02-02","kg":375},{"date":"1997-02-02","kg":300},{"date":"1997-02-02","kg":253},
{"date":"1997-02-08","kg":430},{"date":"1997-02-08","kg":360},{"date":"1997-02-14","kg":310},{"date":"1997-02-14","kg":280},{"date":"1997-02-19","kg":350},{"date":"1997-02-25","kg":310},{"date":"1997-02-25","kg":240},
{"date":"1997-03-03","kg":547},{"date":"1997-03-03","kg":340},{"date":"1997-03-03","kg":260},{"date":"1997-03-09","kg":330},{"date":"1997-03-09","kg":280},{"date":"1997-03-09","kg":190},{"date":"1997-03-09","kg":60},
{"date":"1997-03-15","kg":300},{"date":"1997-03-15","kg":220},{"date":"1997-03-20","kg":360},{"date":"1997-03-20","kg":290},{"date":"1997-03-20","kg":160},{"date":"1997-03-26","kg":320},{"date":"1997-03-26","kg":250},{"date":"1997-03-26","kg":40},
{"date":"1997-04-01","kg":360},{"date":"1997-04-01","kg":280},{"date":"1997-04-01","kg":200},{"date":"1997-04-07","kg":300},{"date":"1997-04-07","kg":100},{"date":"1997-05-01","kg":440},{"date":"1997-05-01","kg":233},{"date":"1997-05-06","kg":370},{"date":"1997-05-06","kg":160},
{"date":"1997-05-12","kg":400},{"date":"1997-05-12","kg":260},{"date":"1997-06-01","kg":455},{"date":"1997-06-01","kg":395},{"date":"1997-06-01","kg":435},{"date":"1997-06-01","kg":223},{"date":"1997-06-07","kg":420},
{"date":"1997-07-18","kg":233},{"date":"1997-07-18","kg":280},{"date":"1997-07-27","kg":350},{"date":"1997-07-27","kg":380},{"date":"1997-07-27","kg":415},{"date":"1997-08-01","kg":330},{"date":"1997-08-01","kg":290},
{"date":"1997-08-13","kg":709},{"date":"1997-08-13","kg":450},{"date":"1997-08-13","kg":200},{"date":"1997-08-13","kg":250},{"date":"1997-08-19","kg":30},{"date":"1997-08-19","kg":14},{"date":"1997-08-19","kg":496},{"date":"1997-08-19","kg":476},{"date":"1997-08-19","kg":360},
{"date":"1997-08-25","kg":330},{"date":"1997-08-25","kg":280},{"date":"1997-08-25","kg":310},{"date":"1997-08-31","kg":300},{"date":"1997-08-31","kg":350},{"date":"1997-08-31","kg":415},{"date":"1997-08-31","kg":192},
{"date":"1997-09-05","kg":430},{"date":"1997-09-05","kg":330},{"date":"1997-09-05","kg":240},{"date":"1997-09-11","kg":455},{"date":"1997-09-11","kg":380},{"date":"1997-09-11","kg":300},{"date":"1997-09-17","kg":497},{"date":"1997-09-17","kg":360},{"date":"1997-09-17","kg":270},
{"date":"1997-09-23","kg":540},{"date":"1997-09-23","kg":420},{"date":"1997-09-23","kg":320},{"date":"1997-09-29","kg":597},{"date":"1997-09-29","kg":450},{"date":"1997-09-29","kg":350},{"date":"1997-10-04","kg":440},{"date":"1997-10-04","kg":220},{"date":"1997-10-04","kg":170},
{"date":"1997-10-10","kg":560},{"date":"1997-10-10","kg":390},{"date":"1997-10-10","kg":150},{"date":"1997-10-16","kg":400},{"date":"1997-10-16","kg":220},{"date":"1997-10-22","kg":480},{"date":"1997-10-22","kg":360},{"date":"1997-10-22","kg":210},
{"date":"1997-10-28","kg":733},{"date":"1997-10-28","kg":420},{"date":"1997-10-28","kg":140},{"date":"1997-11-03","kg":682},{"date":"1997-11-03","kg":638},{"date":"1997-11-03","kg":621},{"date":"1997-11-03","kg":560},{"date":"1997-11-03","kg":435},
{"date":"1997-11-08","kg":420},{"date":"1997-11-08","kg":300},{"date":"1997-11-14","kg":400},{"date":"1997-11-14","kg":283},{"date":"1997-11-14","kg":160},{"date":"1997-11-20","kg":380},{"date":"1997-11-20","kg":290},{"date":"1997-11-20","kg":140},
{"date":"1997-11-26","kg":440},{"date":"1997-11-26","kg":150},{"date":"1997-12-05","kg":455},{"date":"1997-12-05","kg":430},{"date":"1997-12-13","kg":415},{"date":"1997-12-13","kg":420},
{"date":"1998-01-23","kg":162},{"date":"1998-01-29","kg":304},{"date":"1998-01-29","kg":460},{"date":"1998-02-03","kg":678},{"date":"1998-02-03","kg":640},{"date":"1998-02-03","kg":624},{"date":"1998-02-03","kg":759},{"date":"1998-02-03","kg":550},
{"date":"1998-02-09","kg":567},{"date":"1998-02-09","kg":530},{"date":"1998-02-09","kg":480},{"date":"1998-02-15","kg":466},{"date":"1998-02-15","kg":420},{"date":"1998-02-21","kg":334},
{"date":"1998-02-27","kg":1362},{"date":"1998-02-27","kg":253},{"date":"1998-02-27","kg":260},{"date":"1998-02-27","kg":410},{"date":"1998-03-04","kg":24},{"date":"1998-03-04","kg":530},{"date":"1998-03-10","kg":600},{"date":"1998-03-10","kg":320},
{"date":"1998-03-15","kg":790},{"date":"1998-03-15","kg":720},{"date":"1998-03-15","kg":700},{"date":"1998-03-21","kg":670},{"date":"1998-03-21","kg":557},{"date":"1998-03-21","kg":610},{"date":"1998-03-21","kg":405},{"date":"1998-03-21","kg":640},
{"date":"1998-03-27","kg":720},{"date":"1998-03-27","kg":300},{"date":"1998-04-02","kg":160},{"date":"1998-04-11","kg":617},{"date":"1998-04-11","kg":648},{"date":"1998-04-11","kg":620},{"date":"1998-04-16","kg":314},{"date":"1998-04-16","kg":415},
{"date":"1998-04-22","kg":820},{"date":"1998-04-22","kg":881},{"date":"1998-04-22","kg":640},{"date":"1998-04-28","kg":900},{"date":"1998-04-28","kg":162},
{"date":"1998-05-05","kg":1043},{"date":"1998-05-05","kg":1026},{"date":"1998-05-05","kg":870},{"date":"1998-05-05","kg":750},{"date":"1998-05-08","kg":1205},{"date":"1998-05-08","kg":910},
{"date":"1998-05-13","kg":941},{"date":"1998-05-13","kg":850},{"date":"1998-05-13","kg":760},{"date":"1998-05-13","kg":700},{"date":"1998-05-19","kg":930},{"date":"1998-05-19","kg":800},{"date":"1998-05-19","kg":740},{"date":"1998-05-19","kg":650},
{"date":"1998-05-25","kg":900},{"date":"1998-05-25","kg":780},{"date":"1998-05-25","kg":720},{"date":"1998-05-25","kg":580},{"date":"1998-05-31","kg":860},{"date":"1998-05-31","kg":640},{"date":"1998-05-31","kg":500},
{"date":"1998-06-06","kg":1010},{"date":"1998-06-06","kg":840},{"date":"1998-06-06","kg":800},{"date":"1998-06-06","kg":440},{"date":"1998-06-12","kg":1144},{"date":"1998-06-12","kg":820},{"date":"1998-06-12","kg":700},{"date":"1998-06-12","kg":360},
{"date":"1998-06-17","kg":780},{"date":"1998-06-17","kg":720},{"date":"1998-06-17","kg":620},{"date":"1998-06-17","kg":480},{"date":"1998-06-23","kg":700},{"date":"1998-06-23","kg":660},{"date":"1998-06-23","kg":560},
{"date":"1998-06-29","kg":640},{"date":"1998-06-29","kg":580},{"date":"1998-06-29","kg":440},{"date":"1998-06-29","kg":340},{"date":"1998-07-05","kg":1775},{"date":"1998-07-05","kg":850},{"date":"1998-07-05","kg":680},{"date":"1998-07-05","kg":520},
{"date":"1998-07-11","kg":800},{"date":"1998-07-11","kg":600},{"date":"1998-07-11","kg":480},{"date":"1998-07-16","kg":780},{"date":"1998-07-16","kg":560},{"date":"1998-07-16","kg":430},{"date":"1998-07-22","kg":680},{"date":"1998-07-22","kg":71},{"date":"1998-07-22","kg":320},
{"date":"1998-07-28","kg":740},{"date":"1998-07-28","kg":500},{"date":"1998-07-28","kg":300},{"date":"1998-08-05","kg":1399},{"date":"1998-08-05","kg":620},{"date":"1998-08-05","kg":470},{"date":"1998-08-09","kg":720},{"date":"1998-08-09","kg":580},{"date":"1998-08-09","kg":460},
{"date":"1998-08-15","kg":640},{"date":"1998-08-15","kg":450},{"date":"1998-08-15","kg":370},{"date":"1998-08-15","kg":300},{"date":"1998-08-21","kg":670},{"date":"1998-08-21","kg":340},
{"date":"1998-10-31","kg":840},{"date":"1998-11-03","kg":536},{"date":"1998-11-03","kg":314},{"date":"1998-11-03","kg":253},{"date":"1998-11-12","kg":451},{"date":"1998-11-18","kg":779},{"date":"1998-11-18","kg":780},{"date":"1998-11-18","kg":760},{"date":"1998-11-27","kg":718},{"date":"1998-11-27","kg":617},{"date":"1998-11-27","kg":610}
],
"trend41":[
{"date":"1995-01-04","kg":121},{"date":"1995-04-13","kg":165},{"date":"1995-07-29","kg":200},{"date":"1995-11-22","kg":245},{"date":"1996-01-19","kg":265},{"date":"1996-05-15","kg":312},{"date":"1996-07-29","kg":342},{"date":"1996-11-22","kg":372},{"date":"1997-02-17","kg":405},{"date":"1997-07-12","kg":462},{"date":"1997-09-29","kg":492},{"date":"1997-12-25","kg":518},{"date":"1998-03-13","kg":545},{"date":"1998-06-17","kg":577},{"date":"1998-09-03","kg":600},{"date":"1998-11-21","kg":630}
]
},
"vconcat":[
{
"width":765,"height":412,
"title":"Fisherman No 44",
"data":{"name":"p44"},
"mark":{"type":"point","shape":"diamond","filled":true,"color":"#000080","size":40,"opacity":1},
"encoding":{
"x":{"field":"date","type":"temporal","scale":{"type":"utc","domain":[{"year":1994,"month":6,"date":15,"utc":true},{"year":1999,"month":5,"date":20,"utc":true}],"range":[104,710]},
"axis":{"title":null,"offset":-77.5,"labelPadding":16,"labelFlush":false,"labelOverlap":false,"labelExpr":"utcFormat(datum.value, '%b-%y')",
"values":[{"year":1994,"month":6,"date":15,"utc":true},{"year":1995,"month":4,"date":11,"utc":true},{"year":1996,"month":2,"date":5,"utc":true},{"year":1996,"month":12,"date":1,"utc":true},{"year":1997,"month":9,"date":27,"utc":true},{"year":1998,"month":7,"date":24,"utc":true},{"year":1999,"month":5,"date":20,"utc":true}]}},
"y":{"field":"kg","type":"quantitative","scale":{"domain":[0,2000],"range":[334.5,20.5],"nice":false,"zero":true},
"axis":{"title":null,"offset":-104,"labelPadding":8,"format":"d","values":[0,200,400,600,800,1000,1200,1400,1600,1800,2000]}}
}
},
{
"width":765,"height":420,
"title":"Fisherman No 42",
"data":{"name":"p42"},
"mark":{"type":"point","shape":"diamond","filled":true,"color":"#000080","size":40,"opacity":1},
"encoding":{
"x":{"field":"date","type":"temporal","scale":{"type":"utc","domain":[{"year":1994,"month":6,"date":15,"utc":true},{"year":1999,"month":12,"date":6,"utc":true}],"range":[106,681]},
"axis":{"title":null,"offset":-84.3,"labelPadding":16,"labelFlush":false,"labelOverlap":false,"labelExpr":"utcFormat(datum.value, '%b-%y')",
"values":[{"year":1994,"month":6,"date":15,"utc":true},{"year":1995,"month":10,"date":28,"utc":true},{"year":1997,"month":3,"date":11,"utc":true},{"year":1998,"month":7,"date":24,"utc":true},{"year":1999,"month":12,"date":6,"utc":true}]}},
"y":{"field":"kg","type":"quantitative","scale":{"domain":[0,3000],"range":[335.7,91.7],"nice":false,"zero":true},
"axis":{"title":"Daily landings (kg)","titlePadding":14,"offset":-106,"labelPadding":8,"format":"d","values":[0,500,1000,1500,2000,2500,3000]}}
}
},
{
"width":765,"height":430,
"title":"Fisherman No 41",
"encoding":{
"x":{"field":"date","type":"temporal","scale":{"type":"utc","domain":[{"year":1994,"month":6,"date":15,"utc":true},{"year":1999,"month":5,"date":20,"utc":true}],"range":[107,727]},
"axis":{"title":null,"offset":-81,"labelPadding":16,"labelFlush":false,"labelOverlap":false,"labelExpr":"utcFormat(datum.value, '%b-%y')",
"values":[{"year":1994,"month":6,"date":15,"utc":true},{"year":1995,"month":4,"date":11,"utc":true},{"year":1996,"month":2,"date":5,"utc":true},{"year":1996,"month":12,"date":1,"utc":true},{"year":1997,"month":9,"date":27,"utc":true},{"year":1998,"month":7,"date":24,"utc":true},{"year":1999,"month":5,"date":20,"utc":true}]}},
"y":{"field":"kg","type":"quantitative","scale":{"domain":[0,2000],"range":[349,19.7],"nice":false,"zero":true},
"axis":{"title":null,"offset":-107,"labelPadding":8,"format":"d","values":[0,200,400,600,800,1000,1200,1400,1600,1800,2000]}}
},
"layer":[
{"data":{"name":"p41"},"mark":{"type":"point","shape":"diamond","filled":true,"color":"#000080","size":40,"opacity":1}},
{"data":{"name":"trend41"},"mark":{"type":"line","color":"#FF00FF","strokeWidth":6,"strokeCap":"square"},"encoding":{}}
]
}
]
}
